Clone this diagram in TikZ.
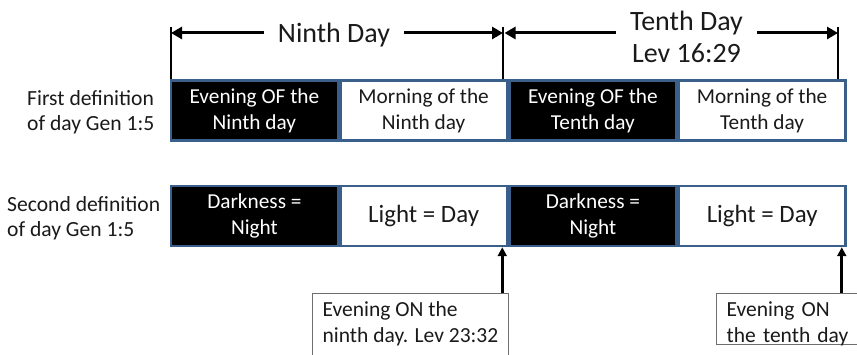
\documentclass[tikz,border=0pt]{standalone}
\usepackage{fontspec}
\setmainfont{Carlito}
\usetikzlibrary{arrows.meta,positioning,calc}
\definecolor{Frame}{HTML}{3A5F8B}
\definecolor{Ink}{HTML}{1A1A1A}
\definecolor{Note}{HTML}{6E6E6E}

\tikzset{
  cell/.style={rectangle,draw=Frame,line width=2.5pt,minimum width=166.75pt,minimum height=60pt,
    inner sep=0pt,align=center,text=Ink,font=\fontsize{21.3}{26}\selectfont},
  night/.style={cell,fill=black,text=white},
  daylit/.style={cell,fill=white},
  rowlabel/.style={anchor=west,align=left,text=Ink,inner sep=0pt,font=\fontsize{21.6}{24.5}\selectfont},
  daylabel/.style={align=center,text=Ink,inner xsep=14pt,inner ysep=0pt,font=\fontsize{28}{32}\selectfont},
  callout/.style={anchor=north west,draw=Note,line width=1.3pt,fill=white,align=left,text=Ink,
    inner xsep=10pt,inner ysep=8pt,text depth=20pt,font=\fontsize{21.5}{26}\selectfont},
  dim/.style={line width=3pt,-{Triangle[length=11pt,width=12pt]}},
  tick/.style={line width=2pt},
  pointer/.style={line width=2.8pt,-{Triangle[length=9pt,width=9pt]}}
}

\begin{document}
\begin{tikzpicture}[x=1pt,y=-1pt]
\clip (0,0) rectangle (857,355);
\fill[white] (0,0) rectangle (857,355);
% first definition
\node[night] (e9) at (254.4,110.5) {Evening OF the\\Ninth day};
\node[daylit,right=0pt of e9] (m9) {Morning of the\\Ninth day};
\node[night,right=0pt of m9] (e10) {Evening OF the\\Tenth day};
\node[daylit,right=0pt of e10] (m10) {Morning of the\\Tenth day};
% second definition
\node[night] (d9) at (254.4,216) {Darkness =\\Night};
\node[daylit,right=0pt of d9,font=\fontsize{24.9}{28}\selectfont] (l9) {Light = Day};
\node[night,right=0pt of l9] (d10) {Darkness =\\Night};
\node[daylit,right=0pt of d10,font=\fontsize{24.9}{28}\selectfont] (l10) {Light = Day};
\node[rowlabel] (def1) at (27,112) {First definition\\of day Gen 1:5};
\node[rowlabel] (def2) at (7,218) {Second definition\\of day Gen 1:5};
% day spans
\coordinate (t0) at (171,27);
\coordinate (t1) at (503,27);
\coordinate (t2) at (838,27);
\draw[tick] (t0) -- (t0 |- e9.north);
\draw[tick] (t1) -- (t1 |- e10.north);
\draw[tick] (t2) -- (t2 |- m10.north);
\coordinate (a0) at (171,33);
\node[daylabel] (n9) at (334,35) {Ninth Day};
\node[daylabel] (n10) at (686.5,37) {Tenth Day\\Lev 16:29};
\draw[dim] (n9.west |- a0) -- (a0);
\draw[dim] (n9.east |- a0) -- (t1 |- a0);
\draw[dim] (n10.west |- a0) -- ([xshift=1.5pt]t1 |- a0);
\draw[dim] (n10.east |- a0) -- (t2 |- a0);
% evenings
\node[callout] (c9) at (312,293) {Evening ON the\\ninth day. Lev 23:32};
\node[callout,text width=150pt] (c10) at (716,293) {Evening ON\\the tenth day};
\coordinate (p9) at ([xshift=-6pt]l9.south east);
\coordinate (p10) at ([xshift=-5pt]l10.south east);
\draw[pointer] (c9.north -| p9) -- (p9);
\draw[pointer] (c10.north -| p10) -- (p10);
\end{tikzpicture}
\end{document}
